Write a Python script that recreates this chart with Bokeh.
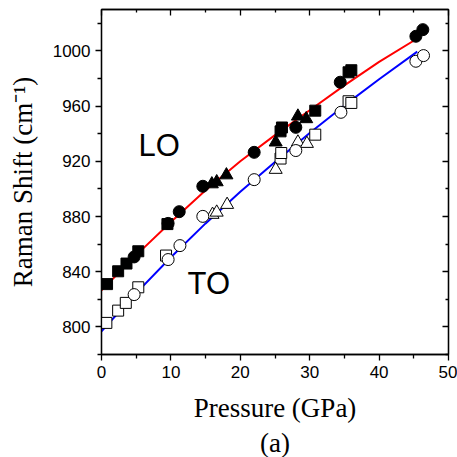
from bokeh.plotting import figure
from bokeh.models import Range1d, LinearAxis, FixedTicker, Label, Title
from bokeh.embed import file_html
from bokeh.resources import INLINE

# ---- data ----
lo_circle_x = [4.7, 9.6, 11.2, 14.6, 22.0, 28.0, 34.4, 45.3, 46.3]
lo_circle_y = [850.7, 875.0, 883.5, 901.9, 926.5, 944.6, 977.3, 1010.6, 1015.4]
lo_square_x = [0.8, 2.4, 3.6, 5.3, 9.5, 25.8, 26.0, 30.8, 35.6, 36.0]
lo_square_y = [831.0, 840.3, 845.9, 854.8, 874.5, 941.7, 944.5, 956.7, 984.5, 986.0]
lo_tri_x = [15.9, 16.6, 18.0, 25.1, 28.3, 29.5]
lo_tri_y = [903.5, 905.0, 910.0, 933.8, 952.6, 950.7]

to_circle_x = [4.7, 9.6, 11.3, 14.6, 22.0, 28.0, 34.5, 45.3, 46.4]
to_circle_y = [823.4, 848.8, 858.9, 880.1, 906.7, 927.8, 955.5, 992.5, 996.6]
to_square_x = [0.7, 2.4, 3.5, 5.3, 9.3, 25.8, 25.9, 30.8, 35.6, 36.0]
to_square_y = [802.9, 811.8, 817.4, 828.7, 851.7, 922.0, 926.0, 939.3, 963.5, 962.3]
to_tri_x = [16.0, 16.6, 18.1, 25.1, 28.3, 29.6]
to_tri_y = [881.4, 883.0, 888.6, 914.0, 933.8, 932.8]

fit_x = [0, 5, 10, 15, 20, 25, 30, 35, 40, 45.5]
lo_fit_y = [826.5, 852.0, 876.0, 899.0, 920.0, 939.0, 957.0, 975.0, 992.0, 1009.0]
to_fit_y = [796.8, 824.5, 850.5, 875.0, 898.0, 919.5, 940.5, 960.5, 979.5, 999.5]

x_ticks = [0, 10, 20, 30, 40, 50]
x_minor = [5, 15, 25, 35, 45]
y_ticks = [800, 840, 880, 920, 960, 1000]
y_minor = [780, 820, 860, 900, 940, 980, 1020]

SANS = "Liberation Sans"
SERIF = "Liberation Serif"

p = figure(width=457, height=457, output_backend="svg", toolbar_location=None,
           x_range=Range1d(0, 50), y_range=Range1d(780, 1030),
           x_axis_location=None, y_axis_location=None,
           min_border_left=101, min_border_right=9, min_border_top=9, min_border_bottom=102)
p.grid.visible = False
p.outline_line_color = "black"
p.outline_line_width = 1.3
p.background_fill_color = "white"
p.border_fill_color = "white"

def style_axis(ax, inner, labels):
    ax.axis_line_color = "black"
    ax.axis_line_width = 1.3
    ax.major_tick_line_width = 1.3
    ax.minor_tick_line_width = 1.3
    if inner:
        ax.major_tick_in, ax.major_tick_out = 6, 0
        ax.minor_tick_in, ax.minor_tick_out = 3, 0
    else:
        ax.major_tick_in, ax.major_tick_out = 0, 6
        ax.minor_tick_in, ax.minor_tick_out = 0, 4
    if not labels:
        ax.major_label_text_font_size = "0px"
        ax.major_label_text_color = None
        ax.major_label_standoff = 0
    else:
        ax.major_label_text_font = SANS
        ax.major_label_text_font_size = "17px"
        ax.major_label_text_color = "black"
    ax.axis_label_text_color = "black"

xt = FixedTicker(ticks=x_ticks, minor_ticks=x_minor)
yt = FixedTicker(ticks=y_ticks, minor_ticks=y_minor)

xb = LinearAxis(ticker=xt, axis_label="Pressure (GPa)")
style_axis(xb, False, True)
xb.axis_label_text_font = SERIF
xb.axis_label_text_font_style = "normal"
xb.axis_label_text_font_size = "27px"
xb.axis_label_standoff = 12
xb.major_label_standoff = 5
p.add_layout(xb, "below")

p.add_layout(Title(text="(a)", align="center", text_font=SERIF, text_font_size="27px",
                   text_font_style="normal", text_color="black", standoff=0,
                   offset=-8), "below")

yl = LinearAxis(ticker=yt, axis_label="Raman Shift (cm\u207b\u00b9)")
style_axis(yl, False, True)
yl.axis_label_text_font = SERIF
yl.axis_label_text_font_style = "normal"
yl.axis_label_text_font_size = "27px"
yl.axis_label_standoff = 12
yl.major_label_standoff = 5
p.add_layout(yl, "left")

xa = LinearAxis(ticker=FixedTicker(ticks=x_ticks, minor_ticks=x_minor))
style_axis(xa, True, False)
p.add_layout(xa, "above")
yr = LinearAxis(ticker=FixedTicker(ticks=y_ticks, minor_ticks=y_minor))
style_axis(yr, True, False)
p.add_layout(yr, "right")

# fit lines
p.line(fit_x, lo_fit_y, line_color="#ff0000", line_width=2)
p.line(fit_x, to_fit_y, line_color="#0000ff", line_width=2)

# open (TO) markers
p.scatter(to_square_x, to_square_y, marker="square", size=11, fill_color="white", line_color="black", line_width=1)
p.scatter(to_tri_x, to_tri_y, marker="triangle", size=13, fill_color="white", line_color="black", line_width=1)
p.scatter(to_circle_x, to_circle_y, marker="circle", size=12, fill_color="white", line_color="black", line_width=1)

# filled (LO) markers
p.scatter(lo_square_x, lo_square_y, marker="square", size=11, fill_color="black", line_color="black")
p.scatter(lo_tri_x, lo_tri_y, marker="triangle", size=13, fill_color="black", line_color="black")
p.scatter(lo_circle_x, lo_circle_y, marker="circle", size=12, fill_color="black", line_color="black")

p.add_layout(Label(x=5.33, y=931.7, text="LO", text_font=SANS, text_font_size="31px",
                   text_baseline="middle", text_color="black"))
p.add_layout(Label(x=12.4, y=831.3, text="TO", text_font=SANS, text_font_size="31px",
                   text_baseline="middle", text_color="black"))

open("out.html", "w").write(file_html(p, INLINE))
